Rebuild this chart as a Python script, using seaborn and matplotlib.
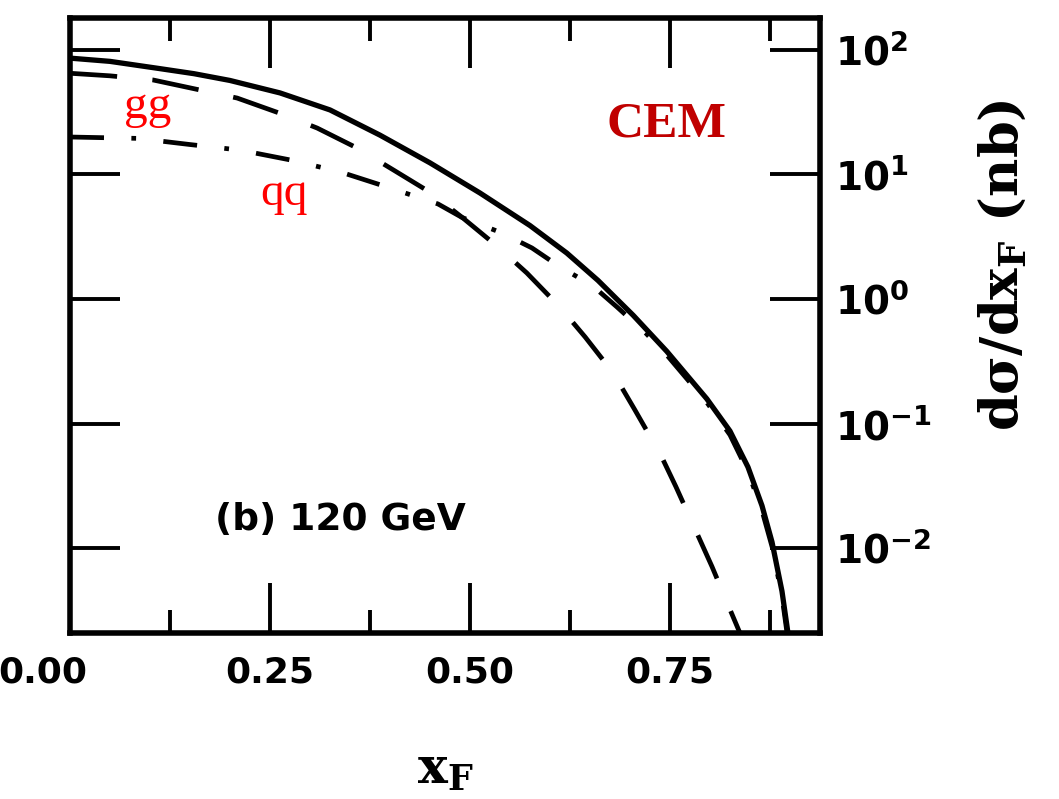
import numpy as np
import pandas as pd
import seaborn as sns
import matplotlib.pyplot as plt
import matplotlib.transforms as mtransforms
from matplotlib.ticker import NullLocator

sns.set_style("ticks")
plt.rcParams['font.family'] = ['DejaVu Sans']
plt.rcParams['mathtext.fontset'] = 'dejavusans'
for k in ['text.color', 'axes.labelcolor', 'xtick.color', 'ytick.color', 'axes.edgecolor']:
    plt.rcParams[k] = 'black'

# total (solid)
x_tot = [0.0, 0.05, 0.1125, 0.155, 0.2, 0.2625, 0.325, 0.3875, 0.45, 0.5125, 0.575,
         0.621, 0.66, 0.704, 0.746, 0.796, 0.825, 0.8475, 0.865, 0.8775, 0.89, 0.9]
y_tot = [86, 81, 70.8, 64.5, 56.9, 45.2, 33, 20.7, 12.4, 7.1, 3.89,
         2.34, 1.41, 0.74, 0.38, 0.158, 0.087, 0.0447, 0.0219, 0.0112, 0.0045, 0.0016]

# gg (dashed)
x_gg = [0.0, 0.05, 0.104, 0.1625, 0.209, 0.2625, 0.309, 0.359, 0.404, 0.45, 0.491, 0.535,
        0.571, 0.6125, 0.644, 0.679, 0.706, 0.739, 0.7575, 0.785, 0.8025, 0.826, 0.84]
y_gg = [65, 62, 57.4, 47.7, 41.1, 31, 23.6, 16.3, 10.9, 7.2, 4.48, 2.62,
        1.62, 0.86, 0.495, 0.255, 0.129, 0.055, 0.031, 0.0126, 0.0071, 0.0031, 0.0019]

# qq (dash-dot)
x_qq = [0.0, 0.085, 0.15, 0.2125, 0.275, 0.3375, 0.40, 0.46, 0.49, 0.54, 0.5775, 0.6125,
        0.6525, 0.684, 0.72, 0.746, 0.796, 0.825, 0.8475, 0.865, 0.8775, 0.89, 0.9]
y_qq = [20, 19.5, 17.4, 15.7, 13.1, 10.5, 7.8, 5.8, 4.52, 3.39, 2.57, 1.81,
        1.29, 0.86, 0.53, 0.355, 0.148, 0.081, 0.041, 0.020, 0.0103, 0.0041, 0.0014]

xticks = [0.0, 0.25, 0.50, 0.75]
xtick_labels = ['0.00', '0.25', '0.50', '0.75']
xminor = [0.125, 0.375, 0.625, 0.875]
yticks = [1e-2, 1e-1, 1e0, 1e1, 1e2]
ytick_labels = [r'$\mathbf{10^{-2}}$', r'$\mathbf{10^{-1}}$', r'$\mathbf{10^{0}}$',
                r'$\mathbf{10^{1}}$', r'$\mathbf{10^{2}}$']

fig = plt.figure(figsize=(10.59, 7.99), dpi=100)
ax = fig.add_axes([0.0661, 0.2078, 0.7082, 0.7697])

sns.lineplot(x=x_tot, y=y_tot, ax=ax, color='black', lw=3.8, sort=False, estimator=None)
sns.lineplot(x=x_gg, y=y_gg, ax=ax, color='black', lw=3.4, sort=False, estimator=None,
             linestyle=(0, (10, 7.5)))
sns.lineplot(x=x_qq, y=y_qq, ax=ax, color='black', lw=3.4, sort=False, estimator=None,
             linestyle=(0, (7.2, 5.8, 1, 5.8)))

ax.set_yscale('log')
ax.set_xlim(0, 0.9375)
ax.set_ylim(0.00208, 180.7)

ax.set_xticks(xticks)
ax.set_xticklabels(xtick_labels, fontsize=26, fontweight='bold')
ax.set_xticks(xminor, minor=True)
ax.set_yticks(yticks)
ax.set_yticklabels(ytick_labels, fontsize=28)
ax.yaxis.set_minor_locator(NullLocator())

ax.tick_params(axis='both', which='major', direction='in', length=36, width=2.8,
               top=True, right=True, left=True, bottom=True,
               labelleft=False, labelright=True, color='black')
ax.tick_params(axis='x', which='major', pad=16)
ax.tick_params(axis='y', which='major', pad=11)
ax.tick_params(axis='x', which='minor', direction='in', length=16.5, width=2.8,
               top=True, bottom=True)

# first x label sits against the left edge, as in the original
lab0 = ax.xaxis.get_major_ticks()[0].label1
lab0.set_ha('right')
lab0.set_transform(lab0.get_transform() +
                   mtransforms.ScaledTranslation(0.17, 0, fig.dpi_scale_trans))

for sp in ax.spines.values():
    sp.set_linewidth(4)
    sp.set_color('black')

ax.set_xlabel(r'$\mathbf{x_F}$', fontsize=36, labelpad=40, math_fontfamily='dejavuserif')

ax.set_ylabel(r'd' + '\u03c3' + r'/dx$_\mathbf{F}$ (nb)', fontsize=38, fontweight='bold',
              family='DejaVu Serif', math_fontfamily='dejavuserif')
ax.yaxis.set_label_position('right')
ax.yaxis.label.set_va('center')
ax.yaxis.set_label_coords(1.244, 0.598)

ax.text(0.193, 0.184, '(b) 120 GeV', transform=ax.transAxes, fontsize=27,
        fontweight='bold', ha='left', va='center')
ax.text(0.796, 0.826, 'CEM', transform=ax.transAxes, fontsize=37, fontweight='bold',
        family='Liberation Serif', color='#C00000', ha='center', va='center')
ax.text(0.104, 0.855, 'gg', transform=ax.transAxes, fontsize=34,
        family='Liberation Serif', color='#FF0000', ha='center', va='center')
ax.text(0.285, 0.714, 'qq', transform=ax.transAxes, fontsize=34,
        family='Liberation Serif', color='#FF0000', ha='center', va='center')

fig.savefig('out.png', dpi=100)
